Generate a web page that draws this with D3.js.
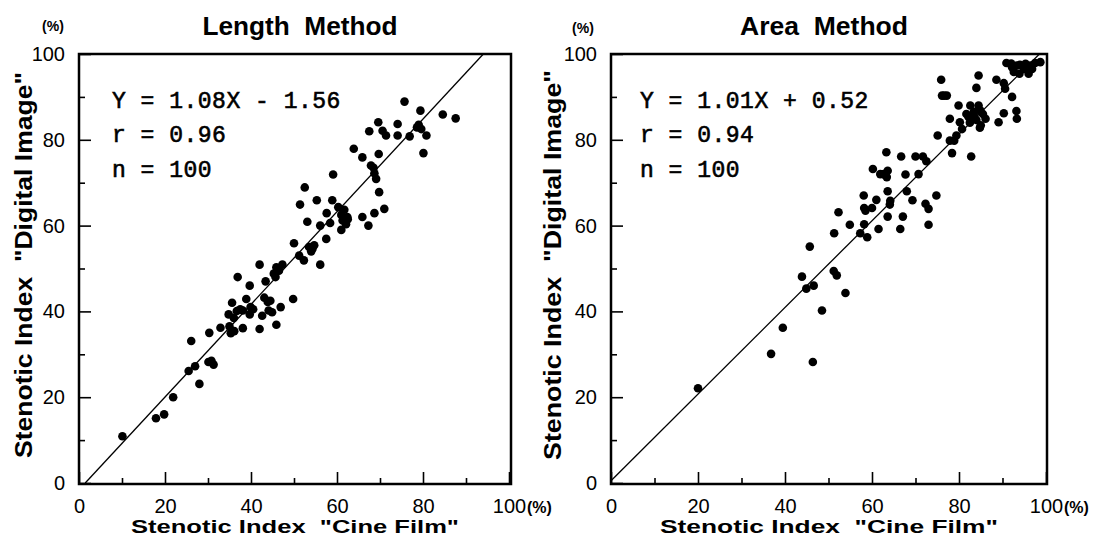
<!DOCTYPE html>
<html>
<head>
<meta charset="utf-8">
<script src="https://cdn.jsdelivr.net/npm/d3@7"></script>
<style>
  body { margin: 0; background: #fff; }
  svg { display: block; }
</style>
</head>
<body>
<script>
// data (cine film % vs digital image %)
const lengthCine = [10.1, 17.9, 19.8, 21.9, 28.0, 25.5, 27.0, 26.1, 30.1, 31.3,
  30.3, 32.9, 35.3, 36.1, 34.8, 35.6, 36.7, 38.1, 36.9, 38.1,
  39.7, 38.9, 39.9, 39.7, 42.0, 42.0, 43.4, 43.1, 43.9, 44.1,
  42.6, 44.9, 46.9, 45.9, 45.3, 45.9, 47.3, 45.7, 49.8, 50.0,
  51.2, 52.3, 53.5, 54.7, 54.3, 56.1, 51.4, 53.1, 52.5, 55.3,
  56.1, 57.5, 57.6, 58.9, 59.1, 58.4, 60.3, 61.7, 61.3, 62.4,
  61.0, 62.1, 63.9, 65.9, 65.9, 67.3, 67.5, 67.9, 68.7, 69.1,
  69.7, 69.8, 68.7, 71.0, 69.6, 70.6, 71.4, 74.1, 74.1, 75.7,
  76.9, 79.4, 78.6, 79.6, 80.8, 80.1, 84.6, 87.6,
  30.8, 36.0, 35.0, 37.5, 40.5, 44.5, 46.5, 54.0, 61.0, 62.5, 68.5, 79.0];
const lengthDigital = [10.9, 15.1, 16.0, 20.0, 23.1, 26.1, 27.2, 33.1, 28.2, 27.6,
  35.0, 36.2, 34.9, 35.4, 39.3, 42.0, 40.1, 36.1, 48.0, 40.2,
  46.0, 42.9, 41.0, 39.3, 35.9, 50.9, 47.0, 43.2, 42.2, 40.2,
  39.0, 39.8, 41.0, 36.9, 48.8, 50.3, 50.9, 48.0, 42.9, 55.9,
  53.0, 51.9, 55.0, 55.4, 54.6, 50.9, 64.9, 60.9, 68.9, 65.9,
  60.0, 56.9, 62.9, 65.9, 71.9, 60.6, 64.3, 63.7, 61.2, 62.0,
  59.0, 60.3, 77.9, 75.9, 62.0, 60.0, 82.0, 74.0, 72.2, 70.9,
  76.7, 67.8, 62.9, 63.9, 84.1, 82.1, 81.0, 83.7, 81.0, 88.9,
  80.8, 86.8, 82.9, 82.5, 81.0, 76.9, 85.9, 85.0,
  28.5, 38.5, 36.5, 40.5, 40.5, 42.5, 49.5, 54.0, 62.5, 61.5, 73.5, 83.5];

const areaCine = [20.0, 36.8, 39.5, 46.4, 48.5, 43.9, 44.9, 46.6, 45.7, 51.2,
  51.9, 53.9, 51.3, 52.3, 54.9, 57.3, 58.2, 58.9, 58.2, 58.1,
  60.0, 61.0, 61.5, 60.2, 61.9, 62.7, 63.4, 63.6, 63.3, 63.6,
  64.2, 64.1, 63.6, 66.7, 67.7, 68.0, 67.1, 66.5, 69.3, 70.0,
  71.7, 72.5, 70.7, 72.3, 73.0, 74.8, 73.0, 75.1, 75.9, 76.1,
  77.2, 77.9, 78.4, 77.9, 78.9, 79.4, 79.9, 80.2, 80.7, 82.8,
  81.7, 82.6, 83.4, 84.9, 84.0, 85.0, 86.1, 82.2, 84.8, 84.0,
  84.5, 88.6, 89.1, 90.3, 90.3, 90.6, 92.2, 93.2, 93.3, 90.9,
  92.2, 93.3, 93.9, 94.9, 96.0, 96.4, 97.5, 98.7, 95.3, 92.6,
  83.5, 85.5, 82.5, 84.5, 63.0, 58.5, 94.0, 96.8, 92.0, 76.6];
const areaDigital = [22.1, 30.1, 36.2, 28.2, 40.2, 48.1, 45.3, 46.0, 55.1, 49.4,
  48.4, 44.3, 58.2, 63.1, 60.2, 58.2, 60.3, 57.3, 64.1, 67.0,
  64.1, 66.0, 59.2, 73.2, 72.0, 72.0, 71.3, 72.8, 77.1, 68.0,
  65.8, 64.9, 62.1, 76.1, 71.9, 68.0, 62.1, 59.2, 65.9, 76.1,
  76.1, 75.0, 72.0, 65.1, 63.9, 67.0, 60.2, 81.0, 94.0, 90.3,
  90.3, 84.9, 76.9, 79.8, 79.8, 81.0, 88.0, 84.1, 82.5, 76.1,
  86.0, 88.0, 86.5, 86.8, 84.6, 83.4, 84.9, 85.3, 82.8, 92.1,
  95.0, 94.0, 84.1, 86.2, 93.2, 91.9, 90.0, 86.7, 84.9, 97.9,
  96.9, 97.3, 95.4, 96.5, 95.4, 97.3, 97.9, 98.1, 97.7, 95.8,
  85.5, 86.0, 84.0, 88.0, 71.8, 63.5, 97.5, 96.5, 97.8, 90.3];

const majorTicks = [0, 20, 40, 60, 80, 100];
const minorTicks = [10, 30, 50, 70, 90];
const titles = ["Length \u00a0Method", "Area \u00a0Method"];
const fits = [{slope: 1.08, icpt: -1.56}, {slope: 1.01, icpt: 0.52}];
const statLines = [["Y = 1.08X - 1.56", "r = 0.96", "n = 100"],
                   ["Y = 1.01X + 0.52", "r = 0.94", "n = 100"]];
const xTitle = "Stenotic Index \u00a0\"Cine Film\"";
const yTitle = "Stenotic Index \u00a0\"Digital Image\"";

const sans = "Arial, 'Liberation Sans', Helvetica, sans-serif";
const mono = "'Courier New', 'Liberation Mono', monospace";

const svg = d3.select("body").append("svg")
    .attr("width", 1098)
    .attr("height", 547);

const panels = [
  {cine: lengthCine, digital: lengthDigital, fit: fits[0], stats: statLines[0], title: titles[0],
   left: 79, right: 509, frameRight: 511, titleX: 300, titleLen: 195, eqX: 112,
   yTitleX: 32, yTitleLen: 386, xTitleLen: 328, pctX: 53, pctY: 31},
  {cine: areaCine, digital: areaDigital, fit: fits[1], stats: statLines[1], title: titles[1],
   left: 611, right: 1046, frameRight: 1047, titleX: 824, titleLen: 168, eqX: 640,
   yTitleX: 561, yTitleLen: 390, xTitleLen: 338, pctX: 583, pctY: 33}
];

const frameTop = 54, frameBottom = 484;

panels.forEach(function(p) {
  var x = d3.scaleLinear().domain([0, 100]).range([p.left, p.right]);
  var y = d3.scaleLinear().domain([0, 100]).range([483, 54]);
  var g = svg.append("g");

  // minor ticks (every 10), inward
  g.append("g")
      .attr("transform", "translate(" + p.left + ",0)")
      .call(d3.axisLeft(y).tickValues(minorTicks).tickSize(-6).tickFormat(""))
      .call(function(a) { a.select(".domain").remove(); });
  g.append("g")
      .attr("transform", "translate(0," + frameBottom + ")")
      .call(d3.axisBottom(x).tickValues(minorTicks).tickSize(-6).tickFormat(""))
      .call(function(a) { a.select(".domain").remove(); });

  // major ticks with labels
  var ya = g.append("g")
      .attr("transform", "translate(" + p.left + ",0)")
      .call(d3.axisLeft(y).tickValues(majorTicks).tickSize(-12).tickPadding(14));
  var xa = g.append("g")
      .attr("transform", "translate(0," + frameBottom + ")")
      .call(d3.axisBottom(x).tickValues(majorTicks).tickSize(-12).tickPadding(15));
  [ya, xa].forEach(function(a) {
    a.select(".domain").remove();
    a.selectAll("text").attr("fill", "#000")
        .style("font-family", sans).style("font-size", "20px");
  });
  g.selectAll(".tick line").attr("stroke", "#000").attr("stroke-width", 1.6);

  // "(%)" next to the 100 on the x axis and above the y axis
  g.append("text")
      .attr("x", x(100) + 18).attr("y", 513)
      .style("font-family", sans).style("font-size", "16px").style("font-weight", "bold")
      .text("(%)");
  g.append("text")
      .attr("x", p.pctX).attr("y", p.pctY)
      .attr("text-anchor", "middle")
      .style("font-family", sans).style("font-size", "14px").style("font-weight", "bold")
      .text("(%)");

  // frame
  g.append("rect")
      .attr("x", p.left).attr("y", frameTop)
      .attr("width", p.frameRight - p.left).attr("height", frameBottom - frameTop)
      .attr("fill", "none").attr("stroke", "#000").attr("stroke-width", 2.5);

  // regression line, kept inside the frame
  var xa0 = Math.max(0, -p.fit.icpt / p.fit.slope);
  var xa1 = Math.min(100, (100 - p.fit.icpt) / p.fit.slope);
  g.append("line")
      .attr("x1", x(xa0)).attr("y1", y(p.fit.slope * xa0 + p.fit.icpt))
      .attr("x2", x(xa1)).attr("y2", y(p.fit.slope * xa1 + p.fit.icpt))
      .attr("stroke", "#000").attr("stroke-width", 1.3);

  // points
  g.selectAll("circle")
      .data(d3.range(p.cine.length))
      .enter().append("circle")
      .attr("cx", function(i) { return x(p.cine[i]); })
      .attr("cy", function(i) { return y(p.digital[i]); })
      .attr("r", 4.3)
      .attr("fill", "#000");

  // stats text
  g.selectAll(".stat")
      .data(p.stats)
      .enter().append("text")
      .attr("class", "stat")
      .attr("x", p.eqX)
      .attr("y", function(d, i) { return 108 + i * 34.3; })
      .style("font-family", mono).style("font-size", "23px")
      .style("stroke", "#000").style("stroke-width", 0.6)
      .style("letter-spacing", "0.5px")
      .text(function(d) { return d; });

  // titles
  g.append("text")
      .attr("x", p.titleX).attr("y", 35)
      .attr("text-anchor", "middle")
      .attr("textLength", p.titleLen).attr("lengthAdjust", "spacingAndGlyphs")
      .style("font-family", sans).style("font-size", "25px").style("font-weight", "bold")
      .text(p.title);
  g.append("text")
      .attr("x", (p.left + p.frameRight) / 2).attr("y", 533)
      .attr("text-anchor", "middle")
      .attr("textLength", p.xTitleLen).attr("lengthAdjust", "spacingAndGlyphs")
      .style("font-family", sans).style("font-size", "19px").style("font-weight", "bold")
      .text(xTitle);
  g.append("text")
      .attr("transform", "translate(" + p.yTitleX + ",265) rotate(-90)")
      .attr("text-anchor", "middle")
      .attr("textLength", p.yTitleLen).attr("lengthAdjust", "spacingAndGlyphs")
      .style("font-family", sans).style("font-size", "23px").style("font-weight", "bold")
      .text(yTitle);
});
</script>
</body>
</html>
